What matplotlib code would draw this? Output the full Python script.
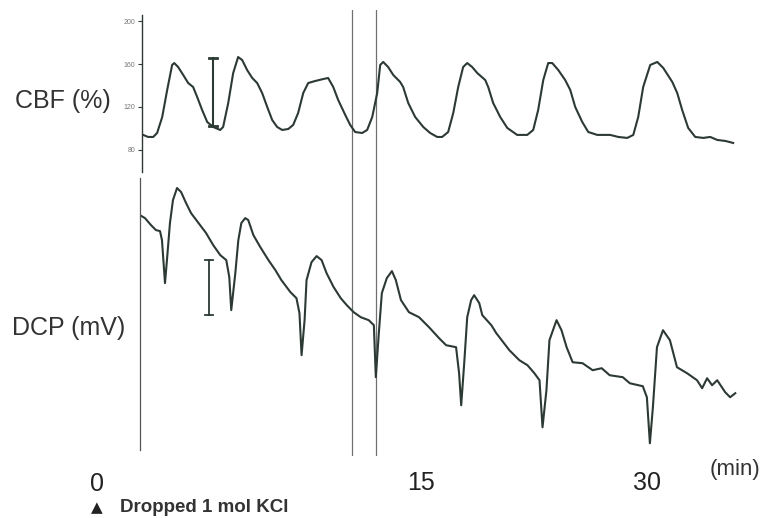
import matplotlib
matplotlib.use("Agg")
import matplotlib.pyplot as plt

plt.rcParams['font.family'] = ['Liberation Sans', 'DejaVu Sans']

# time in minutes (15 and 30 are the labelled marks)
cbf_t = [-3.6, -3.27, -2.93, -2.67, -2.33, -2.0, -1.67, -1.53, -1.27, -0.93,
         -0.6, -0.27, 0.0, 0.33, 0.67, 1.07, 1.53, 1.73, 2.07, 2.4,
         2.73, 3.0, 3.33, 3.67, 4.0, 4.33, 4.67, 5.0, 5.33, 5.67,
         6.07, 6.4, 6.73, 7.07, 7.4, 7.87, 8.4, 8.73, 9.07, 9.4,
         9.87, 10.2, 10.53, 11.0, 11.33, 11.67, 12.0, 12.2, 12.4, 12.73,
         13.07, 13.53, 13.73, 14.07, 14.53, 15.07, 15.53, 16.0, 16.33, 16.73,
         17.07, 17.4, 17.73, 18.0, 18.33, 18.67, 19.2, 19.4, 19.73, 20.2,
         20.67, 21.33, 22.0, 22.4, 22.73, 23.07, 23.4, 23.67, 24.07, 24.53,
         24.87, 25.2, 25.67, 26.07, 26.67, 27.53, 28.07, 28.67, 29.07, 29.4,
         29.73, 30.2, 30.67, 31.07, 31.67, 32.0, 32.33, 32.73, 33.2, 33.73,
         34.2, 34.67, 35.2, 35.73]
# CBF in % of baseline
cbf_val = [94.0, 92.1, 92.1, 95.8, 110.7, 135.8, 159.1, 160.9, 157.2, 149.8,
           142.3, 138.6, 129.3, 117.2, 106.0, 101.4, 98.6, 101.4, 123.7, 151.6,
           166.5, 163.7, 154.4, 147.0, 142.3, 133.0, 120.0, 107.9, 101.4, 98.6,
           99.5, 103.3, 114.4, 133.0, 142.3, 144.2, 146.0, 147.0, 138.6, 126.5,
           112.6, 103.3, 96.7, 95.8, 98.6, 110.7, 133.0, 159.1, 161.9, 157.2,
           149.8, 143.3, 138.6, 123.7, 110.7, 101.4, 95.8, 92.1, 92.1, 96.7,
           114.4, 138.6, 157.2, 160.9, 157.2, 151.6, 145.1, 138.6, 123.7, 110.7,
           100.5, 94.0, 94.0, 98.6, 117.2, 145.1, 160.9, 160.9, 154.4, 145.1,
           135.8, 120.0, 106.0, 96.7, 94.0, 94.0, 92.1, 91.2, 94.0, 110.7,
           138.6, 159.1, 161.9, 156.3, 143.3, 133.0, 117.2, 100.5, 92.1, 91.2,
           92.1, 89.3, 88.4, 86.5]

dcp_t = [-3.67, -3.33, -2.93, -2.6, -2.33, -2.2, -2.0, -1.87, -1.67, -1.47,
         -1.2, -0.93, -0.6, -0.27, 0.33, 0.73, 1.2, 1.67, 2.07, 2.27,
         2.4, 2.67, 2.87, 3.07, 3.33, 3.53, 3.87, 4.33, 4.87, 5.33,
         5.73, 6.33, 6.73, 6.93, 7.07, 7.27, 7.4, 7.73, 8.07, 8.4,
         8.73, 9.2, 9.67, 10.07, 10.53, 11.0, 11.53, 11.87, 12.0, 12.2,
         12.4, 12.73, 13.07, 13.33, 13.67, 14.2, 14.87, 15.53, 16.2, 16.67,
         17.33, 17.53, 17.67, 17.87, 18.07, 18.33, 18.53, 18.87, 19.07, 19.67,
         20.0, 20.87, 21.53, 22.07, 22.53, 22.87, 23.07, 23.33, 23.53, 24.0,
         24.33, 24.67, 25.07, 25.73, 26.4, 27.0, 27.53, 28.4, 28.87, 29.73,
         30.0, 30.2, 30.4, 30.67, 31.07, 31.53, 32.0, 32.67, 33.33, 33.67,
         34.0, 34.33, 34.67, 35.2, 35.53, 35.87]
# DC potential, mV relative to start
dcp_val = [0.0, -0.55, -1.82, -2.73, -2.91, -4.55, -12.36, -8.18, -1.45, 2.73,
           4.91, 4.18, 2.18, 0.36, -1.82, -3.27, -5.45, -7.27, -8.18, -11.27,
           -17.27, -10.55, -4.55, -1.45, -0.55, -0.91, -3.64, -5.82, -8.18, -10.0,
           -11.82, -14.0, -15.09, -17.82, -25.45, -19.09, -11.82, -8.55, -7.45, -8.18,
           -10.55, -13.09, -15.09, -16.36, -17.64, -18.55, -19.09, -20.0, -29.45, -21.45,
           -14.18, -11.45, -10.18, -11.82, -15.45, -17.64, -18.55, -20.36, -22.36, -23.64,
           -24.0, -28.73, -34.55, -26.91, -18.55, -15.45, -14.55, -16.0, -18.18, -20.0,
           -21.45, -24.55, -26.36, -27.27, -28.73, -30.0, -38.55, -31.82, -22.73, -19.09,
           -20.91, -24.0, -26.73, -26.91, -28.18, -27.82, -29.09, -29.45, -30.55, -31.09,
           -33.09, -41.45, -34.91, -24.0, -20.91, -22.73, -27.64, -28.73, -30.0, -31.45,
           -29.64, -30.91, -30.0, -32.18, -33.09, -32.36]

event_times = [10.33, 11.93]
cbf_ticks = [80, 120, 160, 200]
cbf_bar = [102.3, 165.6]   # calibration bar, %
dcp_bar = [-8.2, -18.2]    # calibration bar, mV
cbf_bar_t = 1.07
dcp_bar_t = 0.93

ink = '#2c3a33'
xlim = (-3.67, 36.2)

fig = plt.figure(figsize=(7.6, 5.18), dpi=100)

ax1 = fig.add_axes([0.187, 0.668, 0.787, 0.303])
ax2 = fig.add_axes([0.184, 0.131, 0.790, 0.525])
ov = fig.add_axes([0.187, 0.12, 0.787, 0.861], zorder=-1)

for ax in (ax1, ax2, ov):
    ax.set_xlim(*xlim)
    ax.patch.set_alpha(0)
    for s in ('top', 'right', 'bottom'):
        ax.spines[s].set_visible(False)
    ax.set_xticks([])

ov.spines['left'].set_visible(False)
ov.set_yticks([])
ov.set_ylim(0, 1)
for t in event_times:
    ov.axvline(t, color='#707070', lw=0.9)

# CBF
ax1.plot(cbf_t, cbf_val, color=ink, lw=1.5, solid_joinstyle='round')
ax1.set_ylim(59.5, 205.6)
ax1.set_yticks(cbf_ticks)
ax1.set_yticklabels([str(v) for v in cbf_ticks], fontsize=5, color='#777777')
ax1.tick_params(axis='y', length=3, width=0.8, color=ink, pad=2)
ax1.spines['left'].set_color(ink)
ax1.spines['left'].set_linewidth(1.0)
ax1.plot([cbf_bar_t, cbf_bar_t], cbf_bar, color=ink, lw=1.5)
for v in cbf_bar:
    ax1.plot([cbf_bar_t - 0.25, cbf_bar_t + 0.25], [v, v], color=ink, lw=2)

# DCP
ax2.plot(dcp_t, dcp_val, color=ink, lw=1.5, solid_joinstyle='round')
ax2.set_ylim(-42.7, 6.7)
ax2.set_yticks([])
ax2.spines['left'].set_color('#555555')
ax2.spines['left'].set_linewidth(0.9)
ax2.plot([dcp_bar_t, dcp_bar_t], dcp_bar, color=ink, lw=1.3)
for v in dcp_bar:
    ax2.plot([dcp_bar_t - 0.27, dcp_bar_t + 0.27], [v, v], color=ink, lw=1.3)

# labels
fig.text(15 / 760, 1 - 101 / 518, 'CBF (%)', fontsize=18, color='#333333', va='center')
fig.text(12 / 760, 1 - 328 / 518, 'DCP (mV)', fontsize=18, color='#333333', va='center')

fig.text(97 / 760, 1 - 484 / 518, '0', fontsize=18, ha='center', va='center', color='#222222')
for t, lab in [(15, '15'), (30, '30')]:
    ax2.text(t, -0.12, lab, transform=ax2.get_xaxis_transform(), fontsize=18,
             ha='center', va='center', color='#222222')
fig.text(735 / 760, 1 - 470 / 518, '(min)', fontsize=16, ha='center', va='center', color='#333333')
fig.text(97 / 760, 1 - 508 / 518, '▲', fontsize=11, family=['DejaVu Sans'], ha='center', va='center', color='#222222')
fig.text(120 / 760, 1 - 508 / 518, 'Dropped 1 mol KCl', fontsize=13.5, fontweight='bold',
         ha='left', va='center', color='#333333')

fig.savefig('out.png', dpi=100)
